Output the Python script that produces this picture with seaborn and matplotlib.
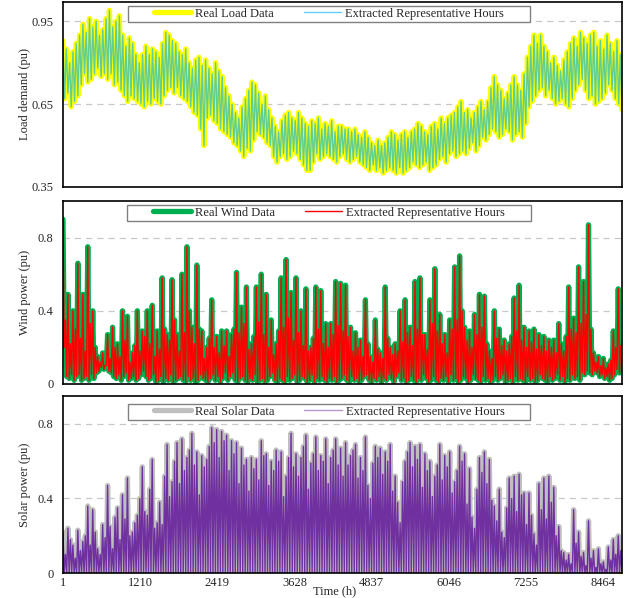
import numpy as np
import matplotlib
matplotlib.use('agg')
import matplotlib.pyplot as plt
from matplotlib.path import Path
import seaborn as sns

# hourly time axis
hours_total = 8760
x_ticks = [1, 1210, 2419, 3628, 4837, 6046, 7255, 8464]

# load demand (pu): local highs / lows read along the year
load_peak = [0.88, 0.85, 0.80, 0.84, 0.87, 0.90, 0.94, 0.91, 0.96, 0.93,
             0.95, 0.90, 0.92, 0.96, 0.99, 0.93, 0.95, 0.97, 0.90, 0.86,
             0.89, 0.87, 0.83, 0.80, 0.83, 0.86, 0.83, 0.85, 0.84, 0.82,
             0.87, 0.91, 0.90, 0.88, 0.87, 0.84, 0.83, 0.85, 0.80, 0.78,
             0.81, 0.82, 0.79, 0.81, 0.78, 0.76, 0.80, 0.77, 0.75, 0.71,
             0.68, 0.65, 0.62, 0.60, 0.64, 0.67, 0.70, 0.73, 0.72, 0.69,
             0.65, 0.68, 0.63, 0.60, 0.57, 0.55, 0.59, 0.61, 0.62, 0.60,
             0.59, 0.62, 0.60, 0.58, 0.57, 0.59, 0.58, 0.60, 0.56, 0.58,
             0.57, 0.59, 0.55, 0.57, 0.57,
             0.56, 0.56, 0.55, 0.56, 0.54, 0.53, 0.55, 0.53, 0.51, 0.50,
             0.52, 0.50, 0.51, 0.53, 0.55, 0.54, 0.52, 0.54, 0.55, 0.53,
             0.55, 0.56, 0.58, 0.57, 0.55, 0.54, 0.57, 0.58, 0.56, 0.60,
             0.58, 0.60, 0.61, 0.62, 0.64, 0.66, 0.62, 0.63, 0.60, 0.62,
             0.64, 0.66, 0.63, 0.66, 0.71, 0.75, 0.72, 0.70, 0.67, 0.69,
             0.72, 0.75, 0.72, 0.70, 0.76, 0.82, 0.86, 0.90, 0.87, 0.90,
             0.86, 0.84, 0.80, 0.82, 0.79, 0.77, 0.81, 0.84, 0.87, 0.89,
             0.86, 0.91, 0.89, 0.87, 0.90, 0.91, 0.86, 0.88, 0.85, 0.90,
             0.87, 0.84, 0.88, 0.83]
load_trough = [0.67, 0.69, 0.64, 0.66, 0.68, 0.72, 0.76, 0.73, 0.74, 0.76,
               0.78, 0.75, 0.76, 0.74, 0.76, 0.72, 0.73, 0.70, 0.68, 0.66,
               0.68, 0.67, 0.66, 0.65, 0.64, 0.66, 0.65, 0.67, 0.66, 0.65,
               0.68, 0.70, 0.71, 0.69, 0.71, 0.68, 0.67, 0.66, 0.64, 0.62,
               0.61, 0.56, 0.50, 0.60, 0.61, 0.59, 0.58, 0.56, 0.55, 0.54,
               0.53, 0.51, 0.50, 0.48, 0.46, 0.49, 0.48, 0.52, 0.55, 0.54,
               0.53, 0.51, 0.50, 0.46, 0.44, 0.46, 0.47, 0.45, 0.46, 0.48,
               0.47, 0.45, 0.43, 0.41, 0.41, 0.44, 0.47, 0.45, 0.46, 0.47,
               0.46, 0.45, 0.44, 0.46, 0.47,
               0.45, 0.44, 0.45, 0.46, 0.44, 0.43, 0.42, 0.41, 0.43, 0.41,
               0.42, 0.40, 0.41, 0.42, 0.41, 0.40, 0.42, 0.40, 0.41, 0.42,
               0.44, 0.43, 0.42, 0.43, 0.44, 0.41, 0.42, 0.43, 0.45, 0.46,
               0.44, 0.47, 0.48, 0.46, 0.47, 0.48, 0.47, 0.49, 0.51, 0.48,
               0.50, 0.53, 0.52, 0.54, 0.56, 0.55, 0.53, 0.54, 0.56, 0.55,
               0.52, 0.54, 0.55, 0.53, 0.58, 0.64, 0.66, 0.68, 0.70, 0.71,
               0.68, 0.70, 0.67, 0.65, 0.66, 0.67, 0.65, 0.64, 0.67, 0.70,
               0.72, 0.74, 0.70, 0.67, 0.68, 0.65, 0.66, 0.67, 0.69, 0.72,
               0.70, 0.67, 0.65, 0.63]

# wind power (pu): gust highs and the lulls that follow them
wind_peak = [0.90, 0.35, 0.49, 0.22, 0.40, 0.30, 0.66, 0.25, 0.49, 0.18,
             0.75, 0.33, 0.40, 0.20, 0.15, 0.12, 0.17, 0.10, 0.27, 0.14,
             0.31, 0.20, 0.22, 0.15, 0.40, 0.24, 0.37, 0.12, 0.17, 0.21,
             0.40, 0.18, 0.29, 0.26, 0.40, 0.22, 0.43, 0.15, 0.29, 0.19,
             0.58, 0.30, 0.27, 0.24, 0.57, 0.35, 0.27, 0.18, 0.60, 0.28,
             0.75, 0.40, 0.31, 0.22, 0.65, 0.30, 0.29, 0.14, 0.20, 0.25,
             0.46, 0.20, 0.26, 0.17, 0.29, 0.21, 0.29, 0.15, 0.27, 0.30,
             0.61, 0.28, 0.42, 0.33, 0.53, 0.19, 0.22, 0.26, 0.53, 0.34,
             0.60, 0.27, 0.49, 0.20, 0.35, 0.16, 0.22, 0.29, 0.58, 0.31,
             0.68, 0.36, 0.50, 0.24, 0.58, 0.28, 0.40, 0.21, 0.52, 0.18,
             0.20, 0.25, 0.53, 0.30, 0.51, 0.22, 0.33, 0.20, 0.33, 0.27,
             0.56, 0.32, 0.55, 0.29,
             0.54, 0.26, 0.31, 0.18, 0.28, 0.20, 0.24, 0.15, 0.46, 0.22,
             0.15, 0.12, 0.35, 0.19, 0.17, 0.14, 0.53, 0.25, 0.20, 0.16,
             0.22, 0.18, 0.40, 0.23, 0.46, 0.28, 0.31, 0.21, 0.56, 0.30,
             0.58, 0.27, 0.27, 0.19, 0.46, 0.33, 0.63, 0.29, 0.38, 0.22,
             0.27, 0.17, 0.35, 0.30, 0.64, 0.35, 0.70, 0.40, 0.31, 0.24,
             0.29, 0.20, 0.38, 0.27, 0.49, 0.31, 0.48, 0.22, 0.18, 0.14,
             0.40, 0.25, 0.30, 0.21, 0.24, 0.18, 0.22, 0.26, 0.47, 0.29,
             0.54, 0.24, 0.31, 0.20, 0.29, 0.23, 0.30, 0.19, 0.27, 0.21,
             0.26, 0.18, 0.24, 0.20, 0.24, 0.17, 0.33, 0.22, 0.18, 0.26,
             0.53, 0.30, 0.36, 0.28, 0.64, 0.33, 0.56, 0.38, 0.87, 0.30,
             0.17, 0.12, 0.15, 0.10, 0.14, 0.09, 0.11, 0.13, 0.29, 0.20,
             0.52, 0.21]
wind_trough = [0.20, 0.04, 0.03, 0.05, 0.02, 0.04, 0.05, 0.02, 0.03, 0.04,
               0.02, 0.05, 0.03, 0.06, 0.07, 0.09, 0.08, 0.10, 0.07, 0.06,
               0.04, 0.03, 0.05, 0.02, 0.04, 0.06, 0.02, 0.03, 0.04, 0.02,
               0.03, 0.05, 0.07, 0.04, 0.02, 0.03, 0.05, 0.01, 0.02, 0.04,
               0.01, 0.03, 0.02, 0.05, 0.01, 0.02, 0.03, 0.04, 0.02, 0.01,
               0.04, 0.02, 0.03, 0.01, 0.02, 0.05, 0.03, 0.02, 0.01, 0.03,
               0.05, 0.02, 0.04, 0.01, 0.03, 0.06, 0.02, 0.04, 0.06, 0.02,
               0.01, 0.03, 0.04, 0.02, 0.01, 0.03, 0.02, 0.05, 0.01, 0.02,
               0.03, 0.01, 0.02, 0.04, 0.06, 0.02, 0.01, 0.03, 0.02, 0.01,
               0.04, 0.02, 0.03, 0.05, 0.01, 0.02, 0.04, 0.03, 0.01, 0.02,
               0.05, 0.01, 0.03, 0.02, 0.04, 0.02, 0.01, 0.03, 0.02, 0.04,
               0.01, 0.02, 0.03, 0.05, 0.02, 0.01, 0.04, 0.02, 0.03, 0.01,
               0.02, 0.04, 0.05, 0.02, 0.01, 0.03, 0.02, 0.04, 0.01, 0.03,
               0.02, 0.05, 0.03, 0.01, 0.04, 0.06, 0.02, 0.03, 0.01, 0.02,
               0.04, 0.02, 0.01, 0.03, 0.02, 0.05, 0.03, 0.01, 0.02, 0.04,
               0.02, 0.01, 0.03, 0.02, 0.04, 0.01, 0.05, 0.02, 0.03, 0.01,
               0.02, 0.04, 0.03, 0.01, 0.02, 0.05, 0.03, 0.02, 0.01, 0.04,
               0.02, 0.03, 0.01, 0.02, 0.04, 0.02, 0.03, 0.05, 0.01, 0.02,
               0.03, 0.01, 0.04, 0.02, 0.03, 0.02, 0.01, 0.04, 0.02, 0.03,
               0.01, 0.02, 0.05, 0.03, 0.02, 0.01, 0.04, 0.02, 0.03, 0.05,
               0.02, 0.04, 0.01, 0.03, 0.02, 0.05, 0.03, 0.04, 0.02, 0.06,
               0.05, 0.07, 0.06, 0.05, 0.07, 0.06, 0.04, 0.05, 0.03, 0.04,
               0.02, 0.03, 0.05, 0.08, 0.06, 0.18]

# solar power (pu): daytime highs, output is zero at night
solar_peak = [0.22, 0.10, 0.24, 0.18, 0.15, 0.08, 0.23, 0.12, 0.17, 0.20,
              0.36, 0.15, 0.34, 0.22, 0.13, 0.10, 0.26, 0.19, 0.47, 0.25,
              0.13, 0.30, 0.35, 0.18, 0.42, 0.29, 0.51, 0.20, 0.22, 0.27,
              0.31, 0.40, 0.57, 0.33, 0.31, 0.45, 0.61, 0.24, 0.27, 0.38,
              0.26, 0.52, 0.69, 0.41, 0.49, 0.60, 0.70, 0.48, 0.72, 0.55,
              0.62, 0.66, 0.75, 0.58, 0.65, 0.42, 0.63, 0.57, 0.61, 0.68,
              0.78, 0.70, 0.77, 0.62, 0.76, 0.71, 0.74, 0.55, 0.71, 0.64,
              0.70, 0.48, 0.67, 0.58, 0.61, 0.44, 0.62, 0.56, 0.61, 0.50,
              0.71, 0.63, 0.64, 0.47, 0.60, 0.55, 0.66, 0.60, 0.65, 0.41,
              0.52, 0.62, 0.75, 0.57, 0.64, 0.52, 0.62, 0.68, 0.74, 0.45,
              0.59, 0.64, 0.73, 0.55, 0.63, 0.60, 0.72, 0.48, 0.62, 0.66,
              0.72, 0.58, 0.67, 0.52,
              0.70, 0.58, 0.63, 0.66, 0.69, 0.51, 0.62, 0.55, 0.73, 0.47,
              0.40, 0.59, 0.68, 0.62, 0.67, 0.53, 0.65, 0.60, 0.69, 0.44,
              0.52, 0.38, 0.27, 0.49, 0.60, 0.65, 0.70, 0.57, 0.68, 0.61,
              0.69, 0.46, 0.64, 0.55, 0.60, 0.41, 0.52, 0.58, 0.69, 0.50,
              0.63, 0.57, 0.65, 0.43, 0.49, 0.55, 0.68, 0.60, 0.64, 0.37,
              0.56, 0.30, 0.24, 0.45, 0.62, 0.54, 0.65, 0.48, 0.61, 0.39,
              0.36, 0.28, 0.45, 0.22, 0.19, 0.35, 0.51, 0.40, 0.52, 0.33,
              0.53, 0.42, 0.43, 0.26, 0.43, 0.31, 0.21, 0.15, 0.48, 0.34,
              0.51, 0.29, 0.52, 0.38, 0.46, 0.20, 0.25, 0.12, 0.11, 0.07,
              0.10, 0.05, 0.34, 0.16, 0.22, 0.09, 0.11, 0.04, 0.28, 0.08,
              0.12, 0.03, 0.13, 0.05, 0.06, 0.02, 0.14, 0.07, 0.18, 0.10,
              0.20, 0.12]
solar_night = [0.0] * len(solar_peak)


def zigzag(peaks, troughs):
    y = np.empty(2 * len(peaks))
    y[0::2] = peaks
    y[1::2] = troughs
    x = np.linspace(1, hours_total, len(y))
    return x, y


def wide_box(x0, y0, width, height, mutation_size):
    # legend frame padded out sideways only
    p = 24
    return Path([(x0 - p, y0), (x0 + width + p, y0), (x0 + width + p, y0 + height),
                 (x0 - p, y0 + height), (x0 - p, y0)], closed=True)


panels = [
    dict(peak=load_peak, low=load_trough, ylim=(0.35, 1.02), yticks=[0.35, 0.65, 0.95],
         ylabels=['0.35', '0.65', '0.95'], ylabel='Load demand (pu)',
         real='Real Load Data', real_col='#FFFF00', rep_col='#00B0F0', rep_alpha=0.62,
         rect=[0.0981, 0.6873, 0.8707, 0.3094], leg_y=1 - 4 / 185),
    dict(peak=wind_peak, low=wind_trough, ylim=(0, 1.0), yticks=[0, 0.4, 0.8],
         ylabels=['0', '0.4', '0.8'], ylabel='Wind power (pu)',
         real='Real Wind Data', real_col='#00B050', rep_col='#FF0000', rep_alpha=1.0,
         rect=[0.0981, 0.3579, 0.8707, 0.3060], leg_y=1 - 4 / 183),
    dict(peak=solar_peak, low=solar_night, ylim=(0, 0.95), yticks=[0, 0.4, 0.8],
         ylabels=['0', '0.4', '0.8'], ylabel='Solar power (pu)',
         real='Real Solar Data', real_col='#BFBFBF', rep_col='#7030A0', rep_alpha=1.0,
         rect=[0.0981, 0.0418, 0.8707, 0.2960], leg_y=1 - 8 / 177),
]

sns.set_theme(style='white')
plt.rcParams['font.family'] = ['Liberation Serif', 'DejaVu Serif']
plt.rcParams['font.size'] = 9

fig = plt.figure(figsize=(6.42, 5.98), dpi=100)

for i, p in enumerate(panels):
    ax = fig.add_axes(p['rect'])
    x, y = zigzag(p['peak'], p['low'])
    sns.lineplot(x=x, y=y, ax=ax, color=p['real_col'], lw=3.8, label=p['real'],
                 estimator=None, sort=False, solid_joinstyle='round', solid_capstyle='round')
    sns.lineplot(x=x, y=y, ax=ax, color=p['rep_col'], lw=1.0, alpha=p['rep_alpha'],
                 label='Extracted Representative Hours', estimator=None, sort=False)

    ax.set_xlim(1, hours_total)
    ax.set_ylim(*p['ylim'])
    ax.set_yticks(p['yticks'], p['ylabels'])
    ax.set_xticks(x_ticks)
    ax.grid(axis='y', ls=(0, (5, 4)), color='#C8C8C8', lw=0.9)
    ax.grid(axis='x', visible=False)
    ax.set_axisbelow(True)
    ax.tick_params(axis='y', length=0, pad=7, labelsize=9)
    ax.tick_params(axis='x', length=0, pad=3, labelsize=9)
    for s in ax.spines.values():
        s.set_visible(True)
        s.set_color('black')
        s.set_linewidth(1.2)

    ax.set_ylabel(p['ylabel'], fontsize=9)
    ax.yaxis.set_label_coords(-0.058, 0.5)
    if i < 2:
        ax.set_xticklabels([])
        ax.set_xlabel('')
    else:
        ax.set_xlabel('Time (h)', fontsize=9)
        ax.xaxis.set_label_coords(0.485, -0.068)

    leg = ax.legend(loc='upper center', bbox_to_anchor=(0.476, p['leg_y']), ncol=2,
                    frameon=True, fancybox=False, borderpad=0.15, borderaxespad=0,
                    handlelength=3.0, handletextpad=0.3, columnspacing=2.4, fontsize=9,
                    edgecolor='#808080', framealpha=1)
    leg.get_frame().set_linewidth(1.0)
    leg.get_frame().set_boxstyle(wide_box)
    if i == 2:
        leg.legend_handles[1].set_alpha(0.5)

fig.savefig('out.png', dpi=100)
